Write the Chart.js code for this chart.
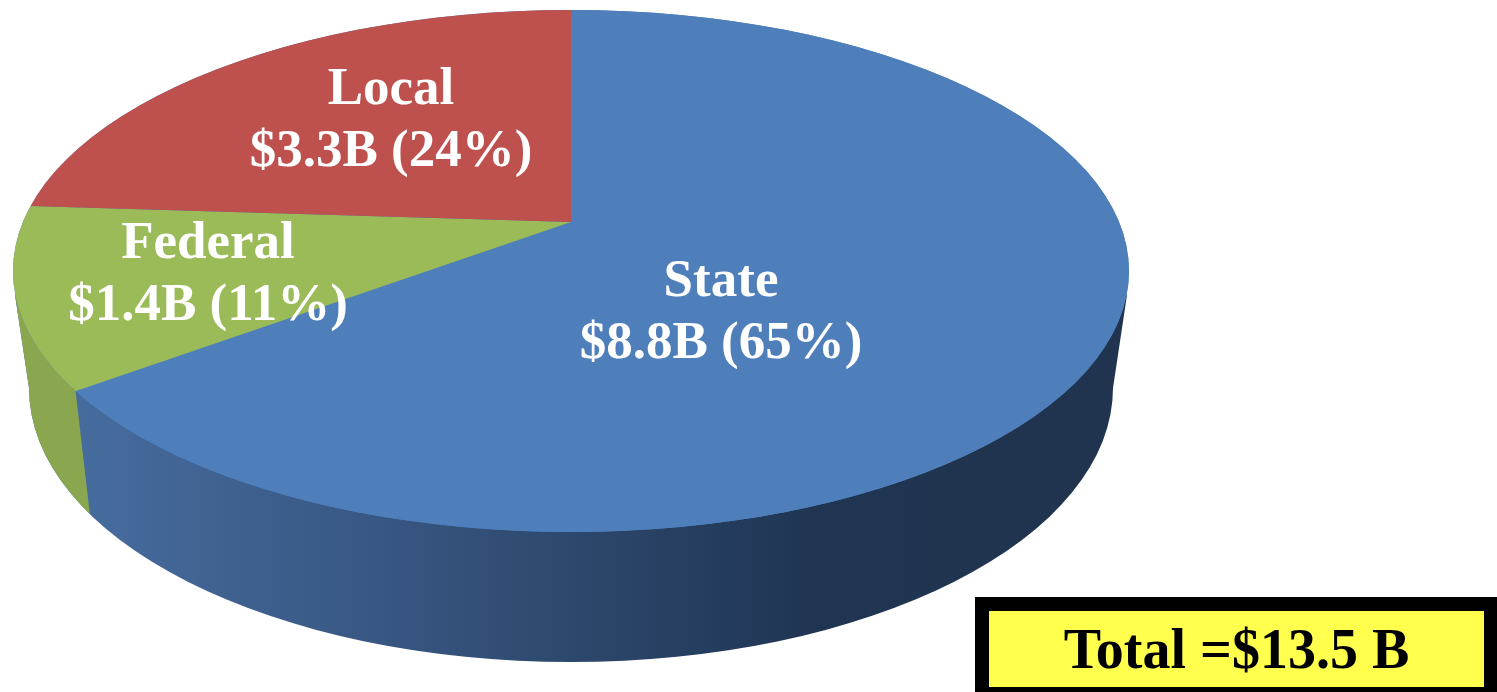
<!DOCTYPE html>
<html><head><meta charset="utf-8">
<style>html,body{margin:0;padding:0;background:#fff;overflow:hidden}
#wrap{position:relative;width:1497px;height:692px}
#box{position:absolute;left:975px;top:597px;width:522px;height:95px;box-sizing:border-box;border:solid #000;border-width:14px 13px 5px 14px;background:#FFFF4D;
font:bold 56px "Liberation Serif",serif;color:#000;text-align:center;line-height:76px;white-space:nowrap}
</style></head><body>
<div id="wrap"><canvas id="c" width="1497" height="692"></canvas><div id="box">Total =$13.5 B</div></div>
<script src="https://cdn.jsdelivr.net/npm/chart.js@4"></script>
<script>
const categories = ['State', 'Federal', 'Local'];
const shares = [65, 11, 24];
const amounts = ['$8.8B', '$1.4B', '$3.3B'];
const sliceColors = ['#4E7FBB', '#9BBB59', '#BE504D'];
const labelCenters = [[721, 296], [208, 258], [391, 104]];

const tilt = 0.47;
const topE = {cx: 571, cy: 271, rx: 558, ry: 261};
const botE = {cx: 571, cy: 388, rx: 542, ry: 274};

function rimPoint(apexX, apexY, angle) {
  // ray from apex along the tilted slice edge, to the rim of the top ellipse
  const dx = Math.cos(angle), dy = Math.sin(angle) * tilt;
  const ox = (apexX - topE.cx) / topE.rx, oy = (apexY - topE.cy) / topE.ry;
  const ux = dx / topE.rx, uy = dy / topE.ry;
  const a = ux * ux + uy * uy, b = 2 * (ox * ux + oy * uy), c = ox * ox + oy * oy - 1;
  const t = (-b + Math.sqrt(b * b - 4 * a * c)) / (2 * a);
  return {x: apexX + dx * t, y: apexY + dy * t};
}

const pie3d = {
  id: 'pie3d',
  beforeDatasetsDraw(chart) {
    const ctx = chart.ctx, arcs = chart.getDatasetMeta(0).data, ax = arcs[0].x, ay = arcs[0].y;
    // side wall
    const wall = () => {
      ctx.beginPath();
      ctx.moveTo(topE.cx - topE.rx + 2, topE.cy + 24);
      ctx.lineTo(botE.cx - botE.rx, botE.cy);
      ctx.ellipse(botE.cx, botE.cy, botE.rx, botE.ry, 0, Math.PI, 0, true);
      ctx.lineTo(topE.cx + topE.rx - 2, topE.cy + 24);
      ctx.closePath();
    };
    const g = ctx.createLinearGradient(80, 0, 1000, 0);
    g.addColorStop(0, '#466C9E');
    g.addColorStop(0.35, '#375580');
    g.addColorStop(0.8, '#1F3552');
    g.addColorStop(1, '#20344F');
    wall(); ctx.fillStyle = g; ctx.fill();
    // federal part of the wall, left of the State edge
    const p = rimPoint(ax, ay, arcs[0].endAngle);
    const px = (p.x - topE.cx) / topE.rx, py = (p.y - topE.cy) / topE.ry;
    const q = {x: botE.cx + px * botE.rx, y: botE.cy + py * botE.ry};
    ctx.save();
    ctx.beginPath();
    ctx.moveTo(0, 0); ctx.lineTo(p.x, 0); ctx.lineTo(p.x, p.y); ctx.lineTo(q.x, q.y); ctx.lineTo(q.x, 692); ctx.lineTo(0, 692); ctx.closePath();
    ctx.clip();
    wall(); ctx.fillStyle = '#8AA64F'; ctx.fill();
    ctx.restore();
    // top face: library arcs, tilted about their apex and cut by the rim
    ctx.save();
    ctx.beginPath();
    ctx.ellipse(topE.cx, topE.cy, topE.rx, topE.ry, 0, 0, Math.PI * 2);
    ctx.fillStyle = sliceColors[0];
    ctx.fill();
    ctx.clip();
    ctx.translate(ax, ay); ctx.scale(1, tilt); ctx.translate(-ax, -ay);
  },
  afterDatasetsDraw(chart) {
    const ctx = chart.ctx;
    ctx.restore();
    ctx.fillStyle = '#fff';
    ctx.font = 'bold 53px "Liberation Serif", serif';
    ctx.textAlign = 'center';
    ctx.textBaseline = 'alphabetic';
    categories.forEach((name, i) => {
      const [x, y] = labelCenters[i];
      ctx.fillText(name, x, y);
      ctx.fillText(amounts[i] + ' (' + shares[i] + '%)', x, y + 62);
    });
  }
};

new Chart(document.getElementById('c'), {
  type: 'pie',
  data: {labels: categories, datasets: [{data: shares, backgroundColor: sliceColors, borderWidth: 0, hoverOffset: 0}]},
  options: {
    responsive: false, animation: false, radius: 800,
    layout: {padding: {left: 0, top: 0, right: 355, bottom: 248}},
    plugins: {legend: {display: false}, tooltip: {enabled: false}}
  },
  plugins: [pie3d]
});
</script>
</body></html>
